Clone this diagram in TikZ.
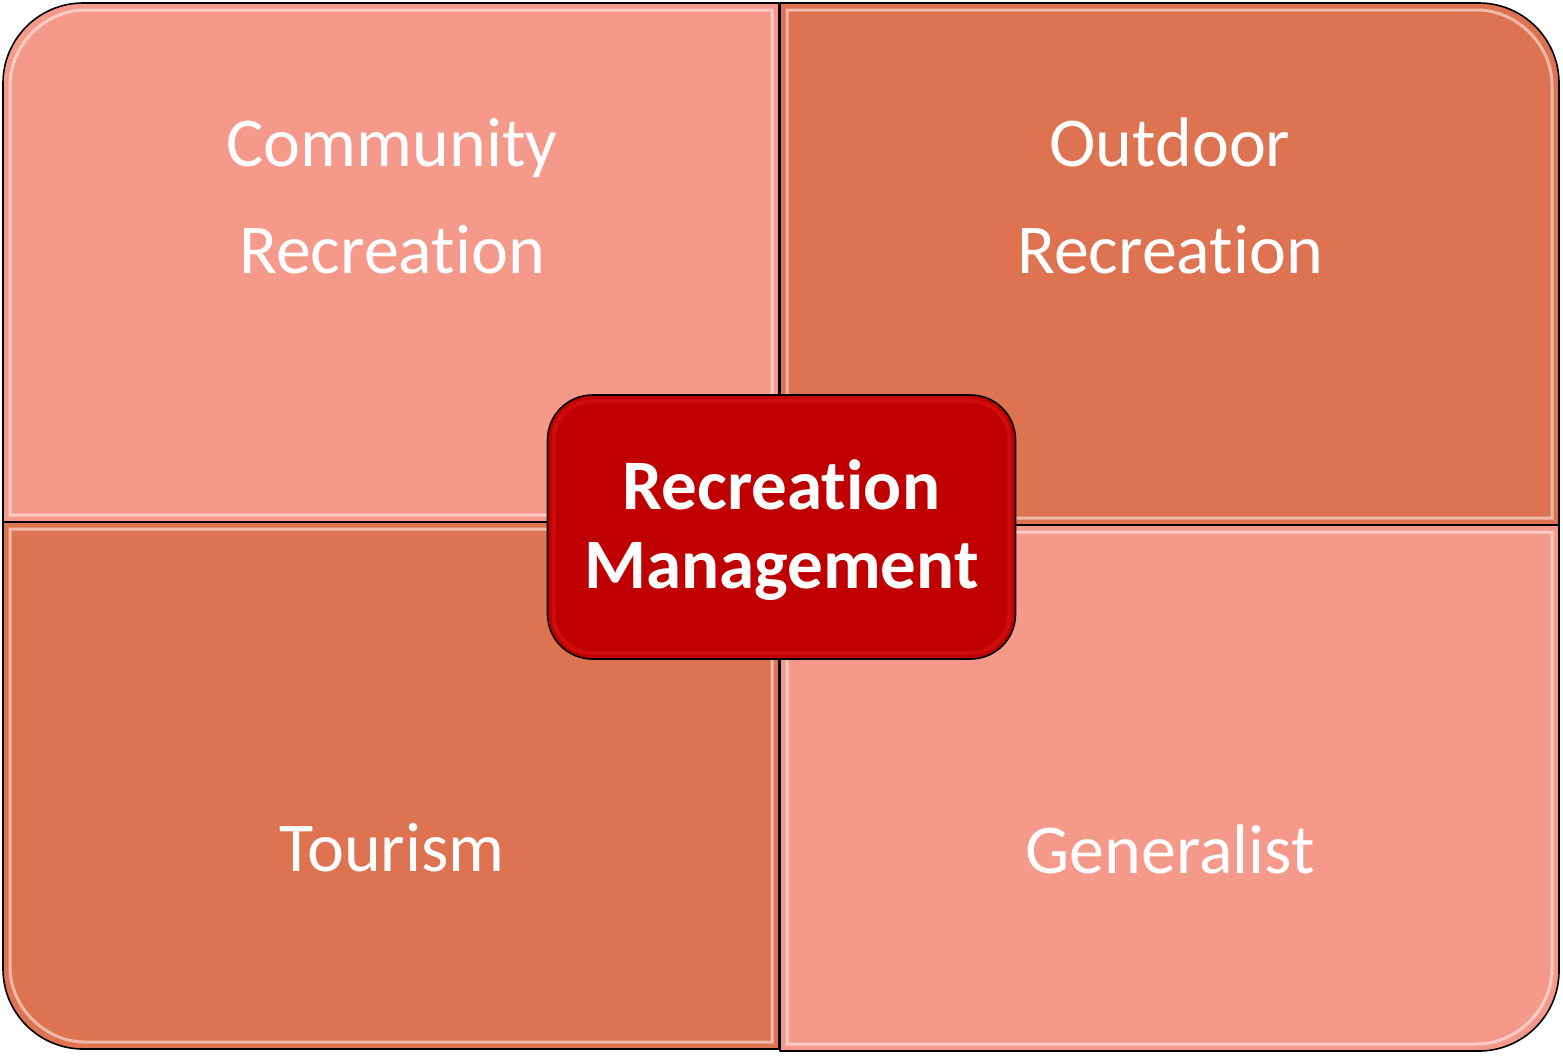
\documentclass[tikz,border=0pt]{standalone}
\usepackage{fontspec}
\setmainfont{Carlito}[Ligatures={NoCommon,NoContextual}]
\definecolor{lightq}{HTML}{F5998B}
\definecolor{darkq}{HTML}{DE7352}
\definecolor{centre}{HTML}{C00000}
\tikzset{
  quad/.style={draw=black, line width=1.6pt, line join=round},
  shine/.style={draw=white, draw opacity=0.5, line width=3pt},
  label/.style={text=white, align=center, font=\fontsize{70}{107}\selectfont},
  centrelabel/.style={text=white, align=center, font=\bfseries\fontsize{71}{79}\selectfont},
}
\begin{document}
\begin{tikzpicture}[x=1pt,y=-1pt]
\useasboundingbox (0,0) rectangle (1563,1055);
% quadrants (one rounded outer corner each, r = 80)
\path[quad, fill=lightq] (3,522) -- (3,83) .. controls (3,39) and (39,3) .. (83,3) -- (779,3) -- (779,522) -- cycle;
\path[quad, fill=darkq] (780,3) -- (1479,3) .. controls (1523,3) and (1559,39) .. (1559,83) -- (1559,525) -- (780,525) -- cycle;
\path[quad, fill=darkq] (779,522) -- (3,522) -- (3,969) .. controls (3,1013) and (39,1049) .. (83,1049) -- (779,1049) -- cycle;
\path[quad, fill=lightq] (780,525) -- (1559,525) -- (1559,971) .. controls (1559,1015) and (1523,1051) .. (1479,1051) -- (780,1051) -- cycle;
% bevel highlights
\path[shine] (10,515) -- (10,85) .. controls (10,45) and (45,10) .. (85,10) -- (772,10) -- (772,515) -- cycle;
\path[shine] (787,10) -- (1477,10) .. controls (1517,10) and (1552,45) .. (1552,85) -- (1552,518) -- (787,518) -- cycle;
\path[shine] (772,529) -- (10,529) -- (10,967) .. controls (10,1007) and (45,1042) .. (85,1042) -- (772,1042) -- cycle;
\path[shine] (787,532) -- (1552,532) -- (1552,969) .. controls (1552,1009) and (1517,1044) .. (1477,1044) -- (787,1044) -- cycle;
% labels
\node[label] (community) at (392,196) {Community\\Recreation};
\node[label] (outdoor) at (1170,196) {Outdoor\\Recreation};
\node[label] (tourism) at (392,848) {Tourism};
\node[label] (generalist) at (1170,849) {Generalist};
% centre box
\node[draw=black, line width=1.6pt, fill=centre, rounded corners=45pt,
      minimum width=468pt, minimum height=264pt] (centrebox) at (781.5,527) {};
\draw[draw=red!80!white, draw opacity=0.25, line width=4pt, rounded corners=38pt]
  ([shift={(7,7)}]centrebox.north west) rectangle ([shift={(-7,-7)}]centrebox.south east);
\node[centrelabel] (centretext) at (781.5,530) {Recreation\\Management};
\end{tikzpicture}
\end{document}
